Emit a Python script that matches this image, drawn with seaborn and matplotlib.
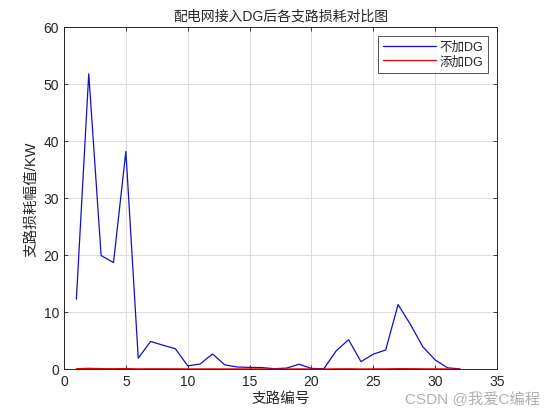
import numpy as np
import pandas as pd
import matplotlib
matplotlib.use("Agg")
import matplotlib.pyplot as plt
import seaborn as sns

branch = list(range(1, 33))
loss_no_dg = [12.24, 51.79, 19.90, 18.66, 38.16, 1.90, 4.83, 4.17, 3.55, 0.55,
              0.87, 2.64, 0.72, 0.35, 0.28, 0.25, 0.05, 0.16, 0.83, 0.10,
              0.04, 3.18, 5.14, 1.29, 2.60, 3.33, 11.30, 7.83, 3.90, 1.59,
              0.21, 0.01]
loss_dg = [0.05, 0.12, 0.06, 0.05, 0.08, 0.02, 0.04, 0.03, 0.03, 0.01,
           0.01, 0.02, 0.01, 0.01, 0.01, 0.01, 0.00, 0.00, 0.02, 0.00,
           0.00, 0.03, 0.04, 0.01, 0.02, 0.03, 0.06, 0.05, 0.03, 0.02,
           0.01, 0.00]
series_names = ["不加DG", "添加DG"]

df = pd.DataFrame({
    "branch": branch * 2,
    "loss": loss_no_dg + loss_dg,
    "series": [series_names[0]] * len(branch) + [series_names[1]] * len(branch),
})

sns.set_style("white")
plt.rcParams['font.family'] = ['Liberation Sans', 'Noto Sans CJK SC', 'DejaVu Sans']

fig = plt.figure(figsize=(5.48, 4.14), dpi=100)
ax = fig.add_axes([0.1168, 0.1063, 0.7902, 0.8261])
sns.lineplot(data=df, x="branch", y="loss", hue="series",
             palette={series_names[0]: "#1010c8", series_names[1]: "#e00000"},
             linewidth=0.9, ax=ax, legend=True)

ax.set_xlim(0, 35)
ax.set_ylim(0, 60)
ax.set_xticks(range(0, 36, 5))
ax.set_yticks(range(0, 61, 10))
ax.grid(True, color="#dcdcdc", linewidth=0.7)
ax.set_axisbelow(True)
for s in ax.spines.values():
    s.set_color("#262626")
    s.set_linewidth(0.7)
ax.tick_params(direction="in", length=3, width=0.6, labelsize=10, colors="#262626",
               top=True, right=True, bottom=True, left=True)
ax.set_title("配电网接入DG后各支路损耗对比图", fontsize=10, color="#262626", pad=5)
ax.set_xlabel("支路编号", fontsize=10.5, color="#262626", labelpad=2)
ax.set_ylabel("支路损耗幅值/KW", fontsize=10.5, color="#262626", labelpad=4)

leg = ax.legend(loc="upper right", fontsize=9, frameon=True, fancybox=False,
                edgecolor="#262626", handlelength=4.2, borderaxespad=0.7,
                labelspacing=0.2, handletextpad=0.3, borderpad=0.4)
leg.get_frame().set_linewidth(0.7)
for t in leg.get_texts():
    t.set_color("#262626")

fig.text(0.985, 0.02, "CSDN @我爱C编程", ha="right", va="bottom", fontsize=11, color="#b0b0b0")

fig.savefig("out.png", dpi=100)
